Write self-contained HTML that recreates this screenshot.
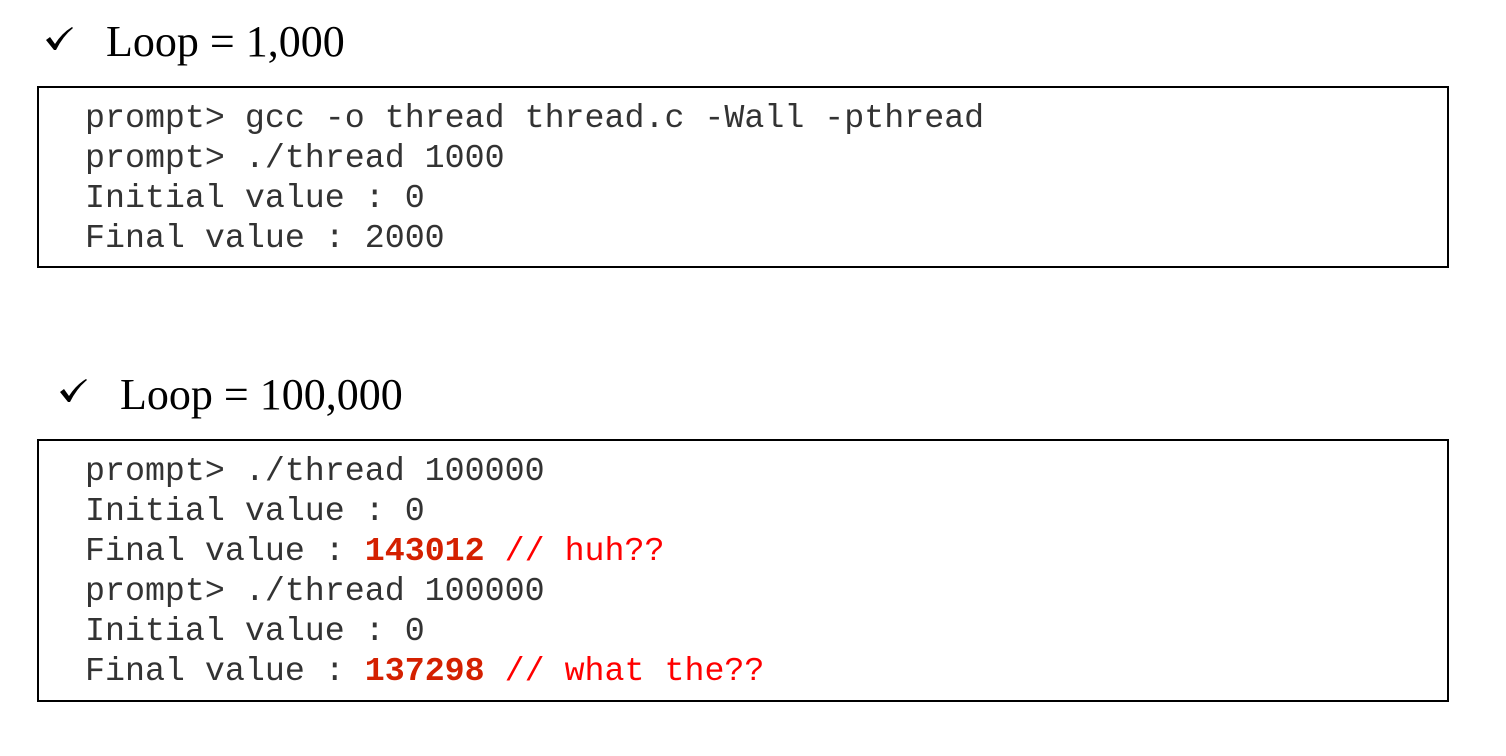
<!DOCTYPE html>
<html><head><style>
body{margin:0;width:1506px;height:756px;background:#fff;position:relative;overflow:hidden}
.h{position:absolute;font-family:"Liberation Serif",serif;font-size:44px;color:#000;line-height:1;white-space:nowrap}
.ck{position:absolute;width:30px;height:26px}
.box{position:absolute;left:37px;width:1408px;border:2px solid #000;box-sizing:content-box}
.l{position:absolute;left:85px;font-family:"Liberation Mono",monospace;font-size:33.3px;line-height:40px;white-space:pre;color:#333;letter-spacing:0}
.b{font-weight:bold;color:#d42000}
.r{color:#f00}
</style></head><body>
<svg class="ck" style="left:44px;top:26px" viewBox="0 0 30 26"><path d="M2 14 L6 11 L11 18 Q18 7 28 1 L29 2 Q19 10 12 24 L10 24 Z" fill="#000"/></svg>
<div class="h" style="left:106px;top:20px">Loop = 1,000</div>
<div class="box" style="top:86px;height:178px"></div>
<div class="l" style="top:98px">prompt&gt; gcc -o thread thread.c -Wall -pthread
prompt&gt; ./thread 1000
Initial value : 0
Final value : 2000</div>
<svg class="ck" style="left:58px;top:378px" viewBox="0 0 30 26"><path d="M2 14 L6 11 L11 18 Q18 7 28 1 L29 2 Q19 10 12 24 L10 24 Z" fill="#000"/></svg>
<div class="h" style="left:120px;top:373px">Loop = 100,000</div>
<div class="box" style="top:439px;height:259px"></div>
<div class="l" style="top:451px">prompt&gt; ./thread 100000
Initial value : 0
Final value : <span class="b">143012</span> <span class="r">// huh??</span>
prompt&gt; ./thread 100000
Initial value : 0
Final value : <span class="b">137298</span> <span class="r">// what the??</span></div>
</body></html>
